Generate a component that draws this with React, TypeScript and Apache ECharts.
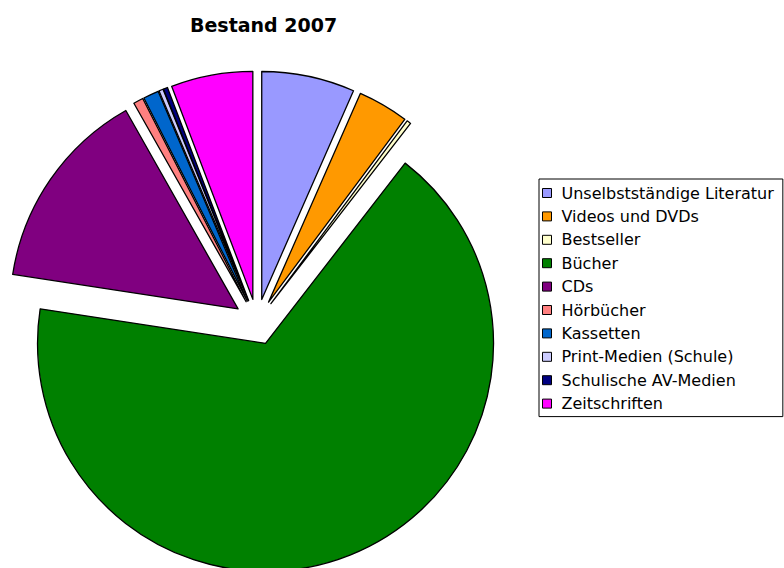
import React, { useEffect, useRef } from "react";
import * as echarts from "echarts";

const categories = [
  "Unselbstständige Literatur",
  "Videos und DVDs",
  "Bestseller",
  "Bücher",
  "CDs",
  "Hörbücher",
  "Kassetten",
  "Print-Medien (Schule)",
  "Schulische AV-Medien",
  "Zeitschriften",
];
const values = [6.6, 3.6, 0.3, 67.0, 14.4, 0.7, 1.1, 0.3, 0.3, 5.8];
const colors = [
  "#9999FF",
  "#FF9900",
  "#FFFFCC",
  "#008000",
  "#800080",
  "#FF8080",
  "#0066CC",
  "#CCCCFF",
  "#000080",
  "#FF00FF",
];
const titleText = "Bestand 2007";

export default function App() {
  const ref = useRef<HTMLDivElement>(null);
  useEffect(() => {
    if (!ref.current) return;
    const chart = echarts.init(ref.current, undefined, { renderer: "svg" });
    const font = "DejaVu Sans";
    chart.setOption({
      animation: false,
      title: {
        text: titleText,
        left: 190,
        top: 15,
        padding: 0,
        textStyle: { fontFamily: font, fontSize: 19, fontWeight: "bold", color: "#000" },
      },
      legend: {
        orient: "vertical",
        left: 539,
        top: 179,
        padding: [6, 9, 5, 3],
        itemGap: 7.4,
        itemWidth: 9,
        itemHeight: 9,
        icon: "rect",
        borderColor: "#000",
        borderWidth: 1,
        backgroundColor: "#fff",
        selectedMode: false,
        itemStyle: { borderColor: "#000", borderWidth: 1 },
        textStyle: {
          fontFamily: font,
          fontSize: 16,
          lineHeight: 16,
          color: "#000",
          padding: [0, 0, 0, 5],
        },
        data: categories,
      },
      series: [
        {
          type: "pie",
          center: [257, 322],
          radius: 228,
          startAngle: 90,
          clockwise: true,
          selectedMode: "multiple",
          selectedOffset: 23,
          avoidLabelOverlap: false,
          label: { show: false },
          labelLine: { show: false },
          emphasis: { disabled: true },
          itemStyle: { borderColor: "#000", borderWidth: 1.3 },
          data: categories.map((name, i) => ({
            name,
            value: values[i],
            selected: true,
            itemStyle: { color: colors[i] },
            select: { itemStyle: { color: colors[i], borderColor: "#000", borderWidth: 1.3 } },
          })),
        },
      ],
    });
    return () => chart.dispose();
  }, []);
  return (
    <div
      ref={ref}
      style={{ position: "fixed", left: 0, top: 0, width: 784, height: 568, background: "#fff" }}
    />
  );
}
